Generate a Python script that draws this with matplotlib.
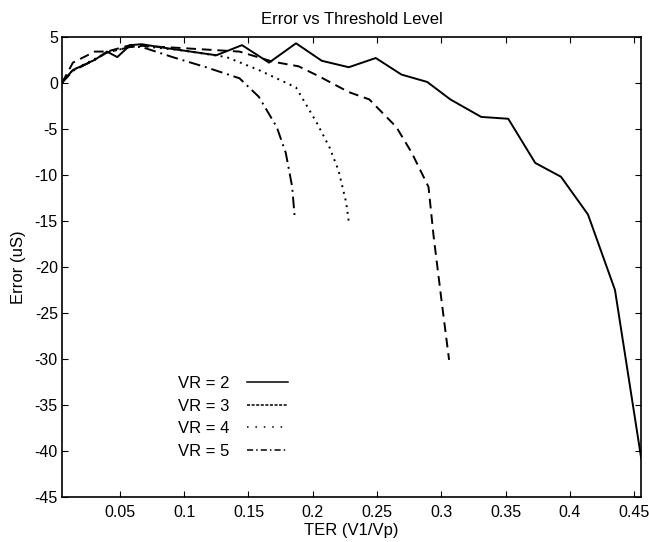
import numpy as np
import matplotlib.pyplot as plt
from matplotlib.lines import Line2D

plt.rcParams['font.family'] = ['Liberation Sans', 'DejaVu Sans']
plt.rcParams['axes.unicode_minus'] = False

# VR = 2 (solid)
ter_vr2 = [0.005, 0.0135, 0.0305, 0.040, 0.048, 0.058, 0.067, 0.085, 0.105, 0.125,
           0.145, 0.166, 0.187, 0.207, 0.228, 0.249, 0.269, 0.289, 0.307, 0.331,
           0.352, 0.373, 0.393, 0.414, 0.435, 0.4554]
err_vr2 = [0.1, 1.4, 2.5, 3.4, 2.8, 4.1, 4.2, 3.8, 3.4, 3.0,
           4.1, 2.2, 4.3, 2.4, 1.7, 2.7, 0.9, 0.1, -1.8, -3.7,
           -3.9, -8.7, -10.2, -14.3, -22.5, -40.8]

# VR = 3 (dashed)
ter_vr3 = [0.005, 0.0135, 0.0305, 0.040, 0.058, 0.096, 0.143, 0.169, 0.189, 0.205,
           0.228, 0.244, 0.265, 0.277, 0.290, 0.294, 0.300, 0.306]
err_vr3 = [0.0, 2.2, 3.4, 3.4, 4.1, 3.8, 3.4, 2.3, 1.8, 0.7,
           -1.0, -1.8, -4.8, -7.6, -11.3, -16.7, -23.5, -30.1]

# VR = 4 (dotted)
ter_vr4 = [0.005, 0.0135, 0.0305, 0.040, 0.058, 0.067, 0.100, 0.133, 0.158, 0.187,
           0.203, 0.213, 0.220, 0.226, 0.228]
err_vr4 = [0.0, 1.4, 2.6, 3.3, 3.9, 4.0, 3.5, 2.8, 1.4, -0.5,
           -4.3, -7.0, -9.5, -13.0, -15.1]

# VR = 5 (dash-dot)
ter_vr5 = [0.005, 0.0135, 0.0305, 0.040, 0.058, 0.067, 0.091, 0.117, 0.143, 0.158,
           0.172, 0.179, 0.184, 0.186]
err_vr5 = [0.0, 1.3, 2.5, 3.3, 3.9, 3.9, 2.8, 1.7, 0.5, -1.5,
           -4.8, -7.6, -11.3, -14.7]

labels = ['VR = 2', 'VR = 3', 'VR = 4', 'VR = 5']
styles = ['-', (0, (5, 3)), (0, (1, 2.5)), (0, (6, 2.5, 1, 2.5))]
legend_styles = ['-', (0, (2, 1)), (0, (1, 4.5)), (0, (4, 2, 1, 2))]

fig = plt.figure(figsize=(6.49, 5.42), dpi=100)
ax = fig.add_axes([0.0955, 0.083, 0.8925, 0.849])

series = [(ter_vr2, err_vr2), (ter_vr3, err_vr3), (ter_vr4, err_vr4), (ter_vr5, err_vr5)]
for (x, y), ls, lab in zip(series, styles, labels):
    ax.plot(x, y, color='black', linestyle=ls, linewidth=1.4, label=lab)

ax.set_xlim(0.005, 0.4554)
ax.set_ylim(-45, 5)
ax.set_xticks(np.arange(0.05, 0.46, 0.05))
ax.set_xticklabels(['0.05', '0.1', '0.15', '0.2', '0.25', '0.3', '0.35', '0.4', '0.45'])
ax.set_yticks(np.arange(-45, 6, 5))
ax.tick_params(direction='in', top=True, right=True, length=4, labelsize=11.5)
ax.tick_params(axis='x', pad=6)
ax.tick_params(axis='y', pad=3)
for s in ax.spines.values():
    s.set_linewidth(1.2)

ax.set_title('Error vs Threshold Level', fontsize=12, pad=9)
ax.set_xlabel('TER (V1/Vp)', fontsize=12, labelpad=2)
ax.set_ylabel('Error (uS)', fontsize=12, labelpad=6)

handles = [Line2D([], [], color='black', linestyle=ls, linewidth=1.1) for ls in legend_styles]
ax.legend(handles, labels, loc='upper left', bbox_to_anchor=(0.175, 0.295),
          frameon=False, markerfirst=False, fontsize=12, handlelength=2.5,
          labelspacing=0.45, handletextpad=1.0)

fig.savefig('out.png', dpi=100)
